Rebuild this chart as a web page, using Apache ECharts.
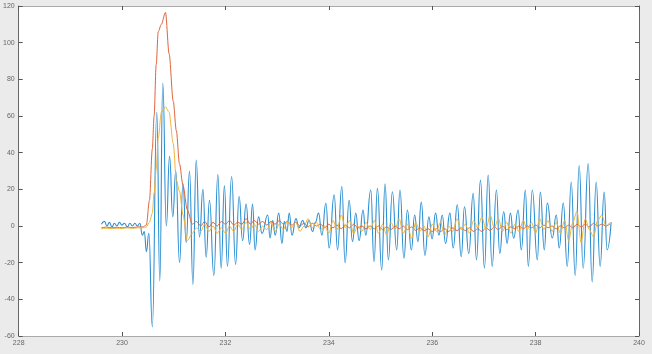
<!DOCTYPE html>
<html>
<head>
<meta charset="utf-8">
<script src="https://cdn.jsdelivr.net/npm/echarts@6/dist/echarts.min.js"></script>
<style>
html,body{margin:0;padding:0;background:#ebebeb;}
#c{width:652px;height:354px;}
</style>
</head>
<body>
<div id="c"></div>
<script>
// x tick labels and y tick labels
const xTicks = [228, 230, 232, 234, 236, 238, 240];
const yTicks = [-60, -40, -20, 0, 20, 40, 60, 80, 100, 120];

// blue series: [time, value] (extrema)
const blue = [
[229.601,1],[229.659,2.5],[229.708,0],[229.756,2],[229.804,-0.5],[229.852,1.5],[229.900,0],[229.949,2],
[229.997,0.5],[230.045,1.5],[230.103,-0.5],[230.151,1.5],[230.200,0],[230.248,1.5],[230.296,0],[230.344,1.5],
[230.392,-5],[230.431,-3],[230.470,-14],[230.518,-4],[230.585,-55],[230.672,62],[230.730,-30],[230.788,78],
[230.856,0],[230.919,38],[230.981,5],[231.039,30],[231.112,-20],[231.178,23],[231.241,-9],[231.305,30],
[231.371,-32],[231.434,36],[231.498,-6],[231.564,20],[231.627,-17],[231.691,14],[231.776,-27],[231.853,28],
[231.917,-23],[231.980,22],[232.038,-22],[232.119,27],[232.196,-21],[232.264,16],[232.332,-8],[232.399,12],
[232.467,-10],[232.524,12],[232.573,-13],[232.640,5],[232.708,-4],[232.818,6],[232.862,-6.5],[232.914,3],
[232.964,-5],[233.030,7],[233.094,-9.5],[233.138,2.4],[233.190,-3],[233.234,7],[233.287,-5],[233.364,4],
[233.422,-1],[233.493,3],[233.557,-1],[233.615,3],[233.686,-3],[233.740,2],[233.802,7],[233.865,-5],
[233.943,12.4],[234.006,-12],[234.103,17],[234.168,-13],[234.251,21.5],[234.315,-20],[234.392,14],[234.458,-8.5],
[234.521,7],[234.585,-8],[234.662,8.7],[234.714,-5],[234.811,19.6],[234.874,-19.5],[234.940,20.5],[235.023,-24],
[235.087,23],[235.152,-18.5],[235.229,18.7],[235.312,-13],[235.376,19.6],[235.453,-17.6],[235.519,8.7],[235.596,-13],
[235.660,6],[235.723,-8.5],[235.789,13],[235.858,-16],[235.936,5],[235.997,-7],[236.065,7],[236.129,-5],
[236.194,6],[236.258,-9.5],[236.341,7],[236.406,-12],[236.484,11.5],[236.561,-16.7],[236.624,10.5],[236.707,-15],
[236.792,17.8],[236.856,-18.5],[236.933,25],[237.010,-23],[237.082,27.8],[237.159,-22],[237.242,19.6],[237.306,-15],
[237.383,7.8],[237.448,-9.5],[237.512,7],[237.576,-6.7],[237.661,8.7],[237.724,-13],[237.801,19.6],[237.859,-22],
[237.936,19.6],[238.033,-18.5],[238.091,18.5],[238.168,-13],[238.226,12.5],[238.322,-6.5],[238.400,6],[238.457,-12],
[238.535,12.5],[238.612,-22],[238.689,24],[238.766,-27],[238.843,33],[238.920,-23],[239.017,34],[239.094,-30.5],
[239.171,24],[239.248,-22],[239.326,18.5],[239.383,-13],[239.461,2]
];

// shared time grid for the slower red and yellow series
const tSlow = [229.60,229.70,229.80,229.90,230.00,230.10,230.20,230.30,230.40,230.47,230.53,230.585,230.62,230.66,230.70,230.76,230.84,230.91,230.99,231.05,231.11,231.18,231.26,
231.36,231.44,231.52,231.60,231.68,231.76,231.84,231.92,232.00,232.08,232.16,232.24,232.32,232.40,232.48,232.56,232.64,232.72,232.80,232.88,
232.96,233.04,233.12,233.20,233.28,233.36,233.44,233.52,233.60,233.68,233.76,233.84,233.92,234.00,234.08,234.16,234.24,234.32,234.40,234.48,
234.56,234.64,234.72,234.80,234.88,234.96,235.04,235.12,235.20,235.28,235.36,235.44,235.52,235.60,235.68,235.76,235.84,235.92,236.00,236.08,
236.16,236.24,236.32,236.40,236.48,236.56,236.64,236.72,236.80,236.88,236.96,237.04,237.12,237.20,237.28,237.36,237.44,237.52,237.60,237.68,
237.76,237.84,237.92,238.00,238.08,238.16,238.24,238.32,238.40,238.48,238.56,238.64,238.72,238.80,238.88,238.96,239.04,239.12,239.20,239.28,
239.36,239.44];

const redV = [-1,-0.6,-1,-0.7,-1,-0.6,-0.9,-0.5,-0.5,0.5,14,42,60,88,106,110,116.5,94,68,52,34,22,9,
1,2.5,0,2.5,-0.5,2,0,2.5,1,3,0.5,2,1,4,1,3,1,2.5,0.5,2.5,
1,3,1,2.5,0.5,2,0,1.5,-0.5,1.5,0,1,-1,1,-1,0.5,-1.5,0.5,-1,1,
-1,0,-1.5,0,-1.5,0,-2,-0.5,-2,0,-1.5,0,-2,-0.5,-2.5,-1,-2.5,-1.5,-3,-1.5,
-3,-1.5,-3,-1,-2.5,-1,-2.5,-1,-3,-1.5,-3,-1,-2.5,-0.5,-2,0,-2,-0.5,-1.5,0,
-1.5,0,-1,0.5,-1,0.5,-1,0,-1.5,0,-1,0.5,-1,1,-0.5,1,-0.5,1.5,0,1,
0,1];

const yellowV = [-1.5,-1.2,-1.5,-1.2,-1.4,-1,-1.3,-1,-1,-0.5,2,7,18,31,48,62,65,62,45,25,19,6,-8,
-4,-1,-3,1,-3,0,-4,-1,-4,0,-3,1,-2,2,-2,1,-3,0,-2,2,
-3,1,-2,3,-1,2,-3,0,4,-1,2,-2,0,-4,3,-2,6,-1,3,-4,
0,-3,2,-2,3,-4,1,-5,2,-2,4,-4,1,-7,2,-3,0,-6,1,-3,
2,-5,0,-3,4,-2,1,-4,3,-1,5,-2,6,-1,4,-3,2,-4,1,-3,
3,-2,2,-4,4,-2,3,-3,2,-4,3,-8,2,8,-9,4,-2,-6,3,6,
0,2];

const chart = echarts.init(document.getElementById('c'), null, {renderer: 'canvas'});
const lbl = {fontSize: 7, color: '#666', fontFamily: 'Liberation Sans, Arial, sans-serif'};
const pair = (t, v) => t.map((x, i) => [x, v[i]]);
const tick = {show: true, inside: true, length: 4, lineStyle: {color: '#555'}};

chart.setOption({
  animation: false,
  backgroundColor: '#ebebeb',
  grid: {left: 17, right: 13, top: 6, bottom: 18, show: true, backgroundColor: '#ffffff', borderWidth: 0},
  xAxis: [
    {type: 'value', min: xTicks[0], max: xTicks[xTicks.length-1], interval: 2, position: 'bottom',
     axisLine: {show: true, onZero: false, lineStyle: {color: '#aaaaaa', width: 1}},
     axisTick: tick, axisLabel: Object.assign({margin: 4}, lbl), splitLine: {show: false}},
    {type: 'value', min: xTicks[0], max: xTicks[xTicks.length-1], interval: 2, position: 'top',
     axisLine: {show: true, onZero: false, lineStyle: {color: '#aaaaaa', width: 1}},
     axisTick: tick, axisLabel: {show: false}, splitLine: {show: false}}
  ],
  yAxis: [
    {type: 'value', min: yTicks[0], max: yTicks[yTicks.length-1], interval: 20, position: 'left',
     axisLine: {show: true, onZero: false, lineStyle: {color: '#666', width: 1}},
     axisTick: tick, axisLabel: Object.assign({margin: 4}, lbl), splitLine: {show: false}},
    {type: 'value', min: yTicks[0], max: yTicks[yTicks.length-1], interval: 20, position: 'right',
     axisLine: {show: true, onZero: false, lineStyle: {color: '#666', width: 1}},
     axisTick: tick, axisLabel: {show: false}, splitLine: {show: false}}
  ],
  series: [
    {type: 'line', data: blue, showSymbol: false, smooth: 0.5, smoothMonotone: 'x',
     lineStyle: {color: '#2b8fd2', width: 1.1}},
    {type: 'line', data: pair(tSlow, redV), showSymbol: false, smooth: 0.3, smoothMonotone: 'x',
     lineStyle: {color: '#e0643c', width: 1}},
    {type: 'line', data: pair(tSlow, yellowV), showSymbol: false, smooth: 0.3, smoothMonotone: 'x',
     lineStyle: {color: '#eeb53a', width: 1}}
  ]
});
</script>
</body>
</html>
